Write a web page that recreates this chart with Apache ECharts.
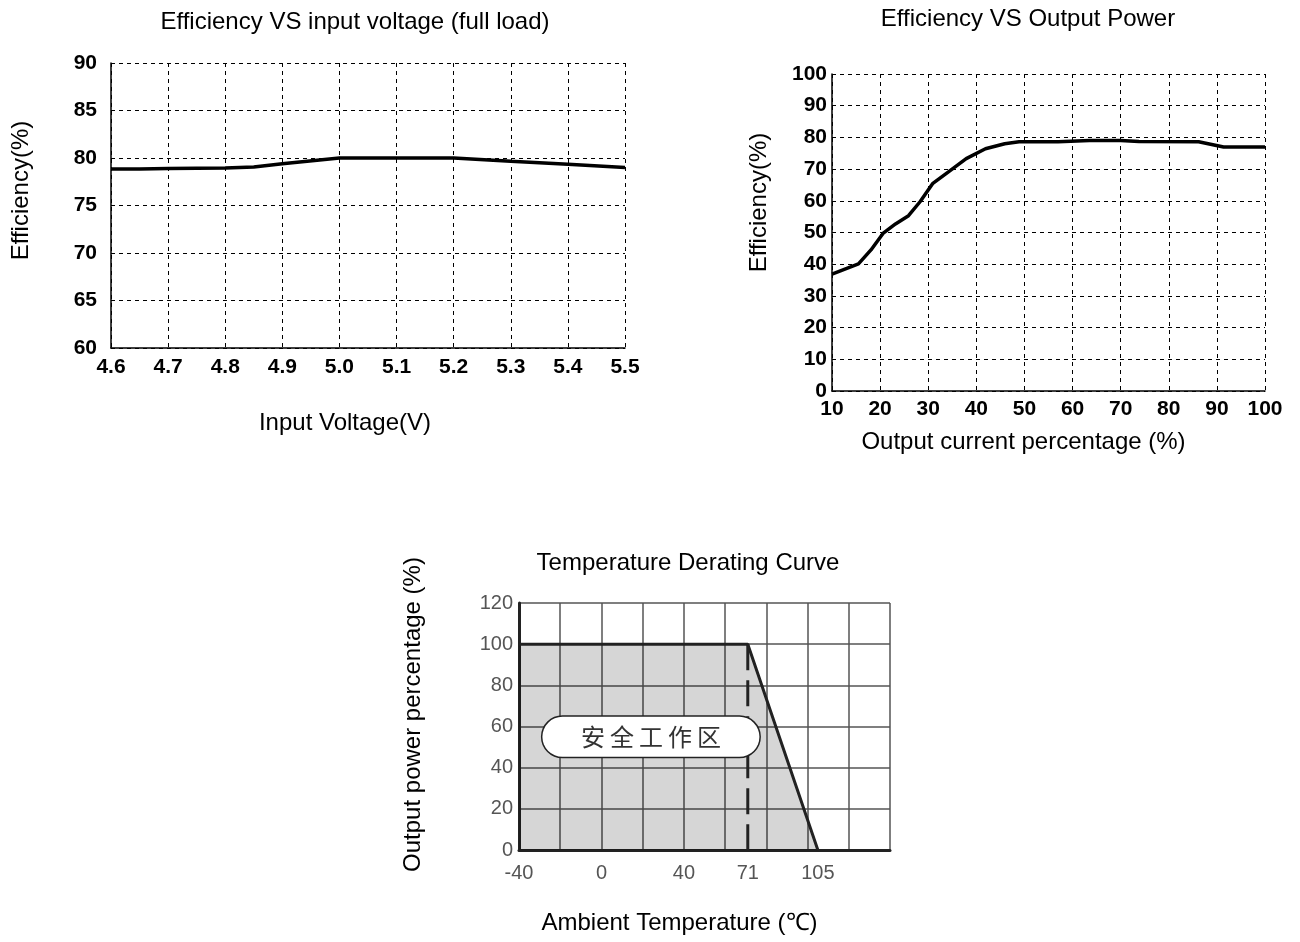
<!DOCTYPE html>
<html>
<head>
<meta charset="utf-8">
<script src="https://cdn.jsdelivr.net/npm/echarts@6/dist/echarts.min.js"></script>
<style>
  html, body { margin: 0; padding: 0; background: #fff; }
  #main { width: 1300px; height: 942px; }
</style>
</head>
<body>
<div id="main"></div>
<script>
// efficiency vs input voltage (full load)
var voltX = [4.6, 4.65, 4.7, 4.8, 4.85, 4.9, 5.0, 5.1, 5.2, 5.3, 5.4, 5.5];
var voltEff = [78.85, 78.85, 78.9, 78.95, 79.05, 79.4, 80, 80, 80, 79.65, 79.35, 79.0];

// efficiency vs output power
var loadX = [10, 15.5, 18.1, 20.6, 23.2, 25.9, 28.3, 30.9, 34.2, 37.9, 41.9, 45.9, 48.9, 57, 63.5, 70, 73.8, 86.2, 91.4, 100];
var loadEff = [36.9, 40.1, 44.5, 49.7, 52.7, 55.3, 59.7, 65.4, 69.1, 73.3, 76.4, 78.0, 78.6, 78.6, 79.0, 79.0, 78.7, 78.6, 77.0, 77.0];

// temperature derating
var tempX = [-40, 71, 105];
var tempPower = [100, 100, 0];
var tempLabels = [-40, 0, 40, 71, 105];
var deratePoint = 71;
var safeZone = [24, 55];

var font = 'Arial, "Liberation Sans", sans-serif';
var dash = [4, 4];

function pairs(xs, ys) {
    return xs.map(function (x, i) { return [x, ys[i]]; });
}

var chart = echarts.init(document.getElementById('main'));

chart.setOption({
    animation: false,
    textStyle: { fontFamily: font },
    title: [
        { text: 'Efficiency VS input voltage (full load)', left: 350, top: 5, textAlign: 'center',
          textStyle: { fontSize: 24, fontWeight: 'normal', color: '#000' } },
        { text: 'Efficiency VS Output Power', left: 1023, top: 2, textAlign: 'center',
          textStyle: { fontSize: 24, fontWeight: 'normal', color: '#000' } },
        { text: 'Temperature Derating Curve', left: 683, top: 546, textAlign: 'center',
          textStyle: { fontSize: 24, fontWeight: 'normal', color: '#000' } }
    ],
    grid: [
        { left: 111, top: 63, width: 514, height: 285 },
        { left: 832, top: 74, width: 433, height: 317 },
        { left: 519, top: 603, width: 371, height: 247 }
    ],
    xAxis: [
        {
            gridIndex: 0, type: 'value', min: 4.6, max: 5.5, interval: 0.1,
            name: 'Input Voltage(V)', nameLocation: 'middle', nameGap: 63,
            nameTextStyle: { fontSize: 24, color: '#000', padding: [0, 46, 0, 0] },
            axisLine: { lineStyle: { color: '#000', width: 1.5 } },
            axisTick: { show: false },
            axisLabel: { fontSize: 21, fontWeight: 'bold', color: '#000', margin: 9,
                         formatter: function (v) { return v.toFixed(1); } },
            splitLine: { lineStyle: { color: '#000', type: dash, width: 1 } }
        },
        {
            gridIndex: 1, type: 'value', min: 10, max: 100, interval: 10,
            name: 'Output current percentage (%)', nameLocation: 'middle', nameGap: 39,
            nameTextStyle: { fontSize: 24, color: '#000', padding: [0, 50, 0, 0] },
            axisLine: { lineStyle: { color: '#000', width: 1.5 } },
            axisTick: { show: false },
            axisLabel: { fontSize: 21, fontWeight: 'bold', color: '#000', margin: 8 },
            splitLine: { lineStyle: { color: '#000', type: dash, width: 1 } }
        },
        {
            gridIndex: 2, type: 'value', min: -40, max: 140, interval: 20,
            name: 'Ambient Temperature (℃)', nameLocation: 'middle', nameGap: 61,
            nameTextStyle: { fontSize: 24, color: '#000', padding: [0, 50, 0, 0] },
            axisLine: { onZero: false, lineStyle: { color: '#222', width: 3 } },
            axisTick: { show: false },
            axisLabel: { fontSize: 20, color: '#555', margin: 13, customValues: tempLabels },
            splitLine: { lineStyle: { color: '#555', width: 1.5 } }
        }
    ],
    yAxis: [
        {
            gridIndex: 0, type: 'value', min: 60, max: 90, interval: 5,
            name: 'Efficiency(%)', nameLocation: 'middle', nameGap: 78,
            nameTextStyle: { fontSize: 24, color: '#000', padding: [0, 0, 0, 30] },
            axisLine: { show: true, lineStyle: { color: '#000', width: 1.5 } },
            axisTick: { show: false },
            axisLabel: { fontSize: 21, fontWeight: 'bold', color: '#000', margin: 14 },
            splitLine: { lineStyle: { color: '#000', type: dash, width: 1 } }
        },
        {
            gridIndex: 1, type: 'value', min: 0, max: 100, interval: 10,
            name: 'Efficiency(%)', nameLocation: 'middle', nameGap: 61,
            nameTextStyle: { fontSize: 24, color: '#000', padding: [0, 0, 0, 60] },
            axisLine: { show: true, lineStyle: { color: '#000', width: 1.5 } },
            axisTick: { show: false },
            axisLabel: { fontSize: 21, fontWeight: 'bold', color: '#000', margin: 5 },
            splitLine: { lineStyle: { color: '#000', type: dash, width: 1 } }
        },
        {
            gridIndex: 2, type: 'value', min: 0, max: 120, interval: 20,
            name: 'Output power percentage (%)', nameLocation: 'middle', nameGap: 94,
            nameTextStyle: { fontSize: 24, color: '#000', padding: [0, 0, 0, 24] },
            axisLine: { show: true, onZero: false, lineStyle: { color: '#222', width: 3 } },
            axisTick: { show: false },
            axisLabel: { fontSize: 20, color: '#555', margin: 6 },
            splitLine: { lineStyle: { color: '#555', width: 1.5 } }
        }
    ],
    series: [
        {
            type: 'line', xAxisIndex: 0, yAxisIndex: 0, symbol: 'none',
            data: pairs(voltX, voltEff),
            lineStyle: { color: '#000', width: 3.5 }
        },
        {
            type: 'line', xAxisIndex: 1, yAxisIndex: 1, symbol: 'none',
            data: pairs(loadX, loadEff),
            lineStyle: { color: '#000', width: 3.5 }
        },
        {
            type: 'line', xAxisIndex: 2, yAxisIndex: 2, symbol: 'none',
            data: pairs(tempX, tempPower),
            lineStyle: { color: '#222', width: 3 },
            areaStyle: { color: 'rgba(0,0,0,0.16)', opacity: 1, origin: 'start' }
        },
        {
            type: 'line', xAxisIndex: 2, yAxisIndex: 2, symbol: 'none',
            data: [[deratePoint, 100], [deratePoint, 0]],
            lineStyle: { color: '#222', width: 3, type: [26, 10] }
        },
        {
            type: 'scatter', xAxisIndex: 2, yAxisIndex: 2, symbolSize: 0,
            data: [safeZone], silent: true,
            itemStyle: { opacity: 1 },
            label: {
                show: true, position: 'inside',
                formatter: '{c|安}{c|全}{c|工}{c|作}{c|区}',
                backgroundColor: '#fff', borderColor: '#222', borderWidth: 1.5,
                borderRadius: 20, padding: [7, 36, 7, 36],
                rich: {
                    c: { fontFamily: '"Noto Sans CJK SC", sans-serif', fontSize: 24,
                         color: '#333', padding: [0, 2.5, 0, 2.5], lineHeight: 26 }
                }
            },
            z: 10
        }
    ]
});
</script>
</body>
</html>
